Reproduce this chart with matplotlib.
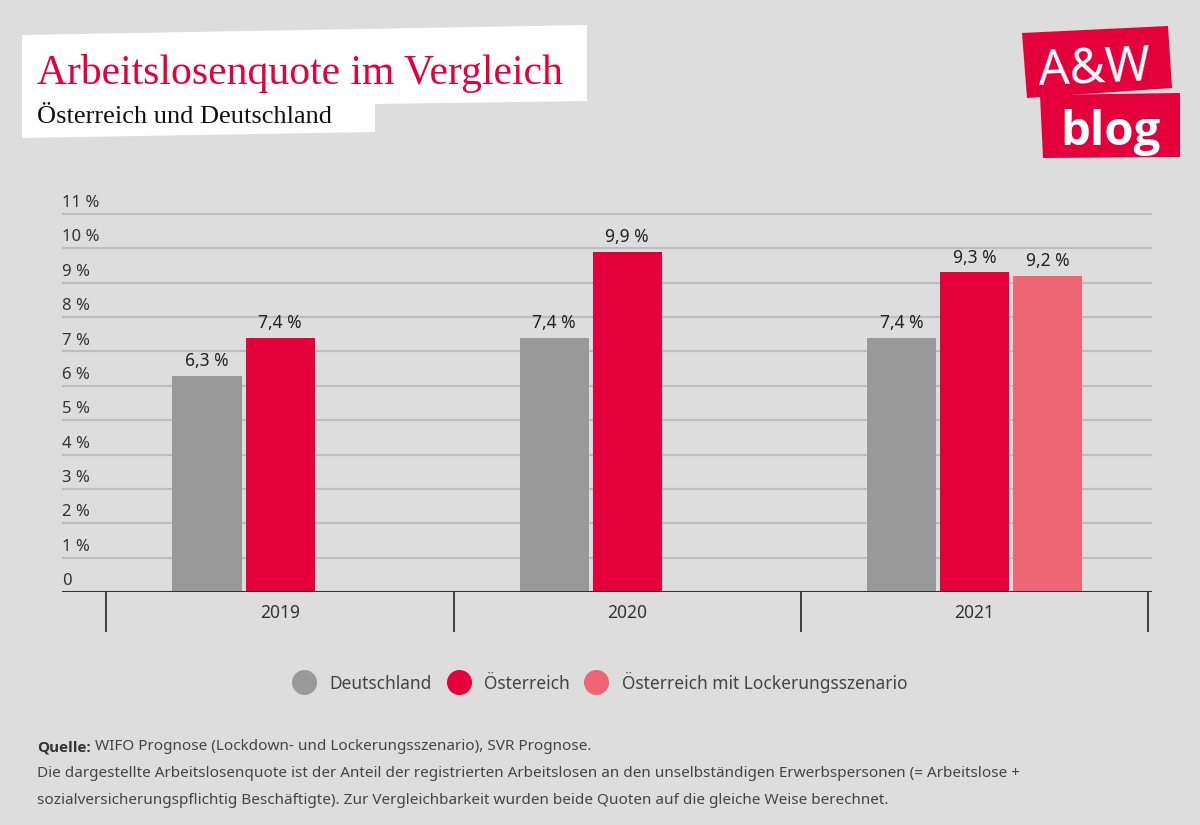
import matplotlib.pyplot as plt
from matplotlib.patches import Polygon
from matplotlib.lines import Line2D

# data
years = ['2019', '2020', '2021']
deutschland = [6.3, 7.4, 7.4]
oesterreich = [7.4, 9.9, 9.3]
lockerung = [None, None, 9.2]
series_names = ['Deutschland', 'Österreich', 'Österreich mit Lockerungsszenario']
y_ticks = list(range(0, 12))
y_tick_labels = ['0'] + [f'{v} %' for v in range(1, 12)]

title = 'Arbeitslosenquote im Vergleich'
subtitle = 'Österreich und Deutschland'
source_bold = 'Quelle:'
source_rest = ' WIFO Prognose (Lockdown- und Lockerungsszenario), SVR Prognose.'
note_lines = [
    'Die dargestellte Arbeitslosenquote ist der Anteil der registrierten Arbeitslosen '
    'an den unselbständigen Erwerbspersonen (= Arbeitslose +',
    'sozialversicherungspflichtig Beschäftigte). Zur Vergleichbarkeit wurden beide '
    'Quoten auf die gleiche Weise berechnet.',
]

W, H = 1200, 825
BG = '#dddddd'
RED = '#e4003a'
colors = ['#999999', RED, '#ee6674']
BOLD_FAMILY = ['Open Sans', 'Roboto', 'DejaVu Sans']

plt.rcParams['font.family'] = ['Noto Sans', 'DejaVu Sans']


def px(x, y):
    # pixel position (from top left) -> figure fraction
    return (x / W, 1 - y / H)


fig = plt.figure(figsize=(W / 100, H / 100), dpi=100, facecolor=BG)

# plot area: 1 % = 378/11 px, category band = 347 px
unit_y = 378 / 11
ytop = 11.1
ax = fig.add_axes([62 / W, 1 - 592 / H, 1090 / W, ytop * unit_y / H])
ax.set_facecolor(BG)
ax.set_xlim(-0.628, 2.5115)
ax.set_ylim(0, ytop)

slot = 73 / 347
bar_w = 69 / 347
for k, vals in enumerate([deutschland, oesterreich, lockerung]):
    idx = [i for i, v in enumerate(vals) if v is not None]
    hs = [vals[i] for i in idx]
    xs = [i + (k - 1) * slot for i in idx]
    bars = ax.bar(xs, hs, width=bar_w, color=colors[k], zorder=2)
    ax.bar_label(bars, labels=[f'{v:.1f} %'.replace('.', ',') for v in hs],
                 padding=4, fontsize=12.5, color='#222')

# grid and y labels sitting on top of the lines
ax.set_yticks(y_ticks)
ax.yaxis.grid(True, color='#bdbdbd', lw=1.5)
ax.set_axisbelow(True)
ax.tick_params(axis='y', length=0, labelleft=False)
for v, lab in zip(y_ticks, y_tick_labels):
    ax.annotate(lab, xy=(0, v), xycoords=ax.get_yaxis_transform(),
                xytext=(0, 5), textcoords='offset points',
                ha='left', va='baseline', fontsize=12, color='#333')

for s in ax.spines.values():
    s.set_visible(False)
ax.axhline(0, color='#333333', lw=2.2, zorder=3)

# category axis with separators between the years
ax.set_xticks(range(len(years)), years)
ax.tick_params(axis='x', length=0, pad=9, labelsize=12.5, labelcolor='#333')
ax.vlines([i - 0.5 for i in range(len(years) + 1)], 0, -40 / (ytop * unit_y),
          transform=ax.get_xaxis_transform(), color='#333333', lw=1.3,
          clip_on=False)

# legend
handles = [Line2D([], [], ls='none', marker='o', markersize=17,
                  markerfacecolor=c, markeredgecolor=c) for c in colors]
fig.legend(handles, series_names, loc='center', bbox_to_anchor=px(600, 682),
           ncol=3, frameon=False, fontsize=12.5, labelcolor='#444',
           handlelength=1.3, handletextpad=0.8, columnspacing=0.9)

# title block
box = [(22, 35), (587, 25), (587, 101), (375, 104), (375, 132), (22, 138)]
fig.patches.append(Polygon([px(*p) for p in box], closed=True, fc='white',
                           ec='none', transform=fig.transFigure, zorder=0))
fig.text(*px(37, 84), title, color=RED, fontsize=30, family='Liberation Serif',
         va='baseline')
fig.text(*px(37, 123), subtitle, color='#111111', fontsize=19,
         family='Liberation Serif', va='baseline')

# logo
logo1 = [(1022, 33), (1168, 26), (1172, 88), (1027, 98)]
logo2 = [(1040, 95), (1180, 93), (1180, 157), (1043, 158)]
for poly in (logo1, logo2):
    fig.patches.append(Polygon([px(*p) for p in poly], closed=True, fc=RED,
                               ec='none', transform=fig.transFigure, zorder=0))
fig.text(*px(1095, 83), 'A&W', color='white', fontsize=35, ha='center',
         va='baseline', rotation=2.5, rotation_mode='anchor')
fig.text(*px(1110, 145), 'blog', color='white', fontsize=34, weight='bold',
         family=BOLD_FAMILY, ha='center', va='baseline')

# source and note
t = fig.text(*px(37, 751), source_bold, fontsize=11, weight='bold',
             family=BOLD_FAMILY, color='#333', va='baseline')
ax.annotate(source_rest, xy=(1, 0), xycoords=t, va='bottom', ha='left',
            fontsize=11, color='#444', annotation_clip=False)
for i, line in enumerate(note_lines):
    fig.text(*px(37, 777 + i * 27), line, fontsize=11, color='#444',
             va='baseline')

fig.savefig('out.png', dpi=100, facecolor=BG)
